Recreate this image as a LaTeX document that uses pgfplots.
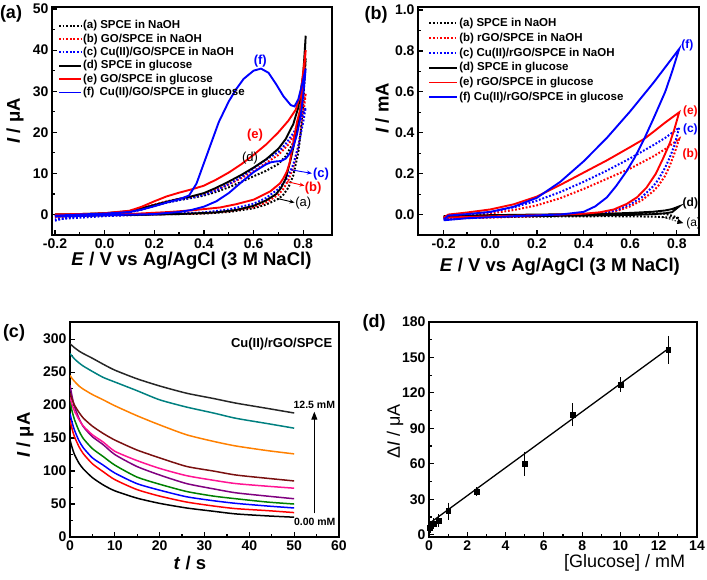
\documentclass[border=0pt]{standalone}
\usepackage{pgfplots}
\pgfplotsset{compat=1.18}
\usepackage{pgfplotstable}
\usepackage{fontspec}
\setmainfont{Liberation Sans}
\usetikzlibrary{arrows.meta}

\definecolor{cgreen}{HTML}{008000}
\definecolor{cpurple}{HTML}{800080}
\definecolor{cpink}{HTML}{FF1493}
\definecolor{cbrown}{HTML}{7A1010}
\definecolor{corange}{HTML}{FF8000}
\definecolor{cteal}{HTML}{008080}

% chronoamperometry, Cu(II)/rGO/SPCE, 0.00 -> 12.5 mM
\pgfplotstableread{
t    c0  c1  c2  c3  c4  c5  c6  c7  c8  c9
0    147 177 187 205 230 212 218 245 278 293
0.5  135 163 173 190 212 200 208 240 274 290
1    125 152 162 178 198 191 200 236 270 287
2    112 137 146 161 180 178 189 229 264 282
3    103 126 135 149 167 168 180 224 259 278
5    90  111 120 134 152 155 168 216 251 271
7.4  79  99  109 122 140 144 157 208 242 262
10   70  87  97  109 125 130 147 199 235 253
14.9 59  72  81  91  107 116 132 184 222 240
20   51  62  71  80  94  104 120 170 208 229
26   44  53  61  69  81  93  107 155 197 218
32   39  47  55  62  73  86  100 145 188 210
37   35  43  51  58  67  81  94  138 180 203
44   32  40  47  53  62  77  89  131 172 195
50   30  37  44  50  58  74  85  126 165 188
}\ctdata

% calibration
\pgfplotstableread{
x    y     e
0.05 6     2
0.1  7.5   2
0.25 9.5   2
0.5  12    3
1    20    5
2.5  36.5  1.5
5    60    8
7.5  101.5 7.5
10   127   4
12.5 156.5 9.5
}\caldata

\tikzset{
  dot/.style={line width=2pt, dash pattern=on 1.8pt off 1.8pt},
  sol/.style={line width=1.9pt},
}

\pgfplotsset{
  panel/.style={
    scale only axis, tick pos=left, tick align=inside,
    major tick length=5pt, minor tick length=3pt,
    axis line style={line width=1.6pt},
    major tick style={line width=1.2pt, black},
    minor tick style={line width=1.2pt, black},
    minor x tick num=1, minor y tick num=1,
    /pgf/number format/assume math mode=true,
    tick label style={font=\fontsize{14}{14}\selectfont\bfseries},
    label style={font=\fontsize{18.5}{18.5}\selectfont\bfseries},
    clip mode=individual,
  },
}

\begin{document}
\begin{tikzpicture}
\useasboundingbox (0,0) rectangle (707pt,579pt);

% ---------- (a) ----------
\begin{axis}[panel,
  at={(52pt,344pt)}, anchor=south west, width=280pt, height=228pt,
  xmin=-0.212, xmax=0.916, ymin=-5, ymax=50.5,
  xtick={-0.2,0,...,0.8}, ytick={0,10,...,50},
  xticklabel style={/pgf/number format/.cd, fixed, fixed zerofill, precision=1},
  xlabel={\textit{E} / V vs Ag/AgCl (3 M NaCl)},
  ylabel={\textit{I} / μA},
  xlabel style={at={(axis description cs:0.498,-0.115)}, anchor=center},
  ylabel style={at={(axis description cs:-0.132,0.5)}, anchor=center},
  legend cell align=left,
  legend image code/.code={\draw[#1] (0pt,0pt) -- (22pt,0pt);},
  legend style={draw=none, fill=none, at={(0.021,0.947)}, anchor=north west,
    font=\fontsize{11.5}{12}\selectfont\bfseries, inner sep=0pt, row sep=0.9pt,
    nodes={inner sep=1pt, text height=8.5pt, text depth=2pt}},
]
\addplot[dot, black] coordinates {
(-0.2,-0.3) (-0.1,0) (0,0.2) (0.1,0.6) (0.15,1.3) (0.2,2.1) (0.25,2.9) (0.3,3.5)
(0.35,4.0) (0.4,4.6) (0.45,5.5) (0.5,6.6) (0.55,7.9) (0.6,9.3) (0.65,10.6) (0.7,12.3)
(0.73,14.2) (0.76,17.5) (0.78,22) (0.8,30) (0.81,38)
(0.8,27) (0.79,20) (0.78,15) (0.76,9.5) (0.74,6.5) (0.72,4.8) (0.7,3.8) (0.65,2.4)
(0.6,1.5) (0.5,0.6) (0.4,0.2) (0.2,0) (0,-0.2) (-0.2,-0.5)};
\addplot[dot, red] coordinates {
(-0.2,-0.5) (-0.1,-0.1) (0,0.2) (0.1,0.7) (0.15,1.5) (0.2,2.4) (0.25,3.2) (0.3,3.8)
(0.35,4.3) (0.4,5.0) (0.45,6.0) (0.5,7.3) (0.55,8.8) (0.6,10.5) (0.65,12.5) (0.7,14.5)
(0.74,17) (0.77,20) (0.79,23.5) (0.81,29.5)
(0.8,24) (0.78,16.5) (0.76,11.5) (0.74,8.3) (0.72,6.2) (0.7,4.8) (0.65,2.9) (0.6,1.8)
(0.5,0.8) (0.4,0.3) (0.2,0) (0,-0.3) (-0.2,-0.7)};
\addplot[dot, blue] coordinates {
(-0.2,-1.5) (-0.15,-0.8) (-0.1,-0.4) (0,0) (0.1,0.5) (0.15,1.2) (0.2,2.1) (0.25,2.9)
(0.3,3.5) (0.35,4.1) (0.4,4.8) (0.45,5.9) (0.5,7.4) (0.55,9.1) (0.6,11.2) (0.65,13.3)
(0.7,15.2) (0.73,17.2) (0.76,19.8) (0.79,23.2) (0.81,26)
(0.8,22.5) (0.78,16.5) (0.76,12.2) (0.75,10.8) (0.73,8.3) (0.7,6.2) (0.65,4.0) (0.6,2.6)
(0.5,1.2) (0.4,0.5) (0.2,0) (0,-0.4) (-0.2,-1.2)};
\addplot[sol, black] coordinates {
(-0.2,0) (-0.1,0.1) (0,0.3) (0.1,0.8) (0.15,1.5) (0.2,2.3) (0.25,3.1) (0.3,3.8)
(0.35,4.4) (0.4,5.2) (0.45,6.5) (0.5,8.0) (0.55,9.6) (0.6,11.4) (0.65,13.4) (0.7,16.0)
(0.73,18.4) (0.76,22) (0.78,26) (0.8,34) (0.81,43.5)
(0.8,31) (0.79,26) (0.78,22) (0.77,19) (0.75,13.5) (0.73,8.8) (0.71,6.4) (0.69,4.9)
(0.65,3.4) (0.6,2.1) (0.53,1.1) (0.45,0.5) (0.3,0.1) (0.1,-0.1) (-0.2,-0.2)};
\addplot[sol, red] coordinates {
(-0.2,0) (-0.1,0.1) (0,0.3) (0.1,0.9) (0.15,1.9) (0.2,3.2) (0.25,4.4) (0.3,5.3)
(0.35,6.1) (0.4,7.0) (0.45,8.5) (0.5,10.2) (0.55,12.2) (0.6,14.5) (0.65,17.0) (0.7,20.0)
(0.74,22.8) (0.77,25.5) (0.79,29.5) (0.81,40)
(0.8,32) (0.79,26) (0.775,22.5) (0.76,17.5) (0.745,12.5) (0.734,10.4) (0.72,8.8)
(0.707,7.6) (0.667,5.6) (0.6,3.6) (0.53,2.5) (0.465,1.7) (0.35,1.0) (0.26,0.6)
(0.1,0.1) (-0.2,-0.2)};
\addplot[sol, blue] coordinates {
(-0.2,-0.3) (-0.1,0) (0,0.2) (0.1,0.6) (0.15,1.2) (0.2,2.0) (0.25,2.9) (0.3,3.7)
(0.34,4.6) (0.37,7.5) (0.4,12.5) (0.43,17.5) (0.46,22.5) (0.5,27.5) (0.53,30.5)
(0.56,33) (0.6,35.0) (0.63,35.5) (0.66,34.5) (0.69,31.8) (0.72,28.8) (0.75,26.6)
(0.765,26.3) (0.78,28) (0.795,31.5) (0.81,35.5)
(0.8,29) (0.79,24) (0.775,19.5) (0.76,16.5) (0.745,14.8) (0.73,13.6) (0.71,13)
(0.69,12.9) (0.67,12.7) (0.65,12.2) (0.6,10.3) (0.55,7.8) (0.5,5.2) (0.45,3.2)
(0.4,1.9) (0.35,1.1) (0.3,0.6) (0.2,0.1) (0,-0.2) (-0.2,-0.5)};
\legend{(a) SPCE in NaOH, (b) GO/SPCE in NaOH, (c) Cu(II)/GO/SPCE in NaOH,
  (d) SPCE in glucose, (e) GO/SPCE in glucose, (f)\ \,Cu(II)/GO/SPCE in glucose}
\node[blue, font=\fontsize{13}{13}\selectfont\bfseries] at (axis cs:0.627,37.3) {(f)};
\node[red, font=\fontsize{13}{13}\selectfont\bfseries] at (axis cs:0.606,19.4) {(e)};
\node[black, font=\fontsize{13}{13}\selectfont] at (axis cs:0.586,13.8) {(d)};
\node[blue, font=\fontsize{13}{13}\selectfont\bfseries] at (axis cs:0.872,9.7) {(c)};
\node[red, font=\fontsize{13}{13}\selectfont\bfseries] at (axis cs:0.84,6.3) {(b)};
\node[black, font=\fontsize{13}{13}\selectfont] at (axis cs:0.8,2.7) {(a)};
\draw[blue, line width=0.9pt, -{Stealth[length=5pt,width=4pt]}] (axis cs:0.748,10.9) -- (axis cs:0.835,10.0);
\draw[red, line width=0.9pt, -{Stealth[length=5pt,width=4pt]}] (axis cs:0.735,8.0) -- (axis cs:0.805,7.0);
\draw[black, line width=0.9pt, -{Stealth[length=5pt,width=4pt]}] (axis cs:0.695,3.9) -- (axis cs:0.765,2.9);
\end{axis}

% ---------- (b) ----------
\begin{axis}[panel,
  at={(418pt,344pt)}, anchor=south west, width=281pt, height=228pt,
  xmin=-0.31, xmax=0.895, ymin=-0.1, ymax=1.015,
  xtick={-0.2,0,...,0.8}, ytick={0,0.2,...,1.0},
  xticklabel style={/pgf/number format/.cd, fixed, fixed zerofill, precision=1},
  yticklabel style={/pgf/number format/.cd, fixed, fixed zerofill, precision=1},
  xlabel={\textit{E} / V vs Ag/AgCl (3 M NaCl)},
  ylabel={\textit{I} / mA},
  xlabel style={at={(axis description cs:0.505,-0.14)}, anchor=center},
  ylabel style={at={(axis description cs:-0.128,0.555)}, anchor=center},
  legend cell align=left,
  legend image code/.code={\draw[#1] (0pt,0pt) -- (28pt,0pt);},
  legend style={draw=none, fill=none, at={(0.036,0.957)}, anchor=north west,
    font=\fontsize{11.5}{12}\selectfont\bfseries, inner sep=0pt, row sep=2.3pt,
    nodes={inner sep=1pt, text height=8.5pt, text depth=2pt}},
]
\addplot[dot, black] coordinates {
(-0.2,-0.012) (0,-0.008) (0.2,-0.004) (0.4,-0.001) (0.5,0.0) (0.6,0.002) (0.7,0.006)
(0.75,0.004) (0.78,-0.006) (0.81,-0.018)
(0.7,-0.01) (0.5,-0.008) (0.2,-0.01) (-0.2,-0.014)};
\addplot[dot, red] coordinates {
(-0.2,-0.02) (-0.1,-0.005) (0,0.005) (0.1,0.022) (0.2,0.045) (0.3,0.08) (0.4,0.125)
(0.5,0.175) (0.6,0.225) (0.7,0.285) (0.75,0.32) (0.81,0.37)
(0.79,0.3) (0.77,0.24) (0.75,0.19) (0.72,0.14) (0.7,0.115) (0.65,0.07) (0.6,0.04)
(0.55,0.02) (0.5,0.008) (0.4,0.0) (0.2,-0.008) (0,-0.015) (-0.2,-0.02)};
\addplot[dot, blue] coordinates {
(-0.2,-0.015) (-0.1,0.0) (0,0.012) (0.1,0.035) (0.2,0.068) (0.3,0.11) (0.4,0.16)
(0.5,0.215) (0.6,0.275) (0.7,0.34) (0.75,0.375) (0.81,0.425)
(0.79,0.34) (0.77,0.28) (0.75,0.23) (0.72,0.17) (0.7,0.14) (0.65,0.085) (0.6,0.05)
(0.55,0.025) (0.5,0.01) (0.4,0.001) (0.2,-0.006) (0,-0.012) (-0.2,-0.018)};
\addplot[sol, black] coordinates {
(-0.2,-0.008) (0,-0.003) (0.2,0.0) (0.4,0.002) (0.5,0.004) (0.6,0.008) (0.7,0.014)
(0.75,0.02) (0.78,0.027) (0.81,0.04)
(0.78,0.012) (0.75,0.006) (0.7,0.002) (0.6,-0.002) (0.4,-0.005) (0.2,-0.007)
(0,-0.01) (-0.2,-0.012)};
\addplot[sol, red] coordinates {
(-0.2,-0.015) (-0.18,0.0) (-0.1,0.01) (0,0.025) (0.1,0.05) (0.2,0.088) (0.3,0.145)
(0.4,0.205) (0.5,0.265) (0.6,0.33) (0.66,0.37) (0.7,0.405) (0.75,0.45) (0.81,0.5)
(0.79,0.42) (0.77,0.35) (0.742,0.277) (0.71,0.2) (0.67,0.132) (0.63,0.085)
(0.585,0.052) (0.53,0.025) (0.47,0.011) (0.4,0.004) (0.3,0.0) (0.1,-0.006)
(-0.1,-0.012) (-0.2,-0.015)};
\addplot[sol, blue] coordinates {
(-0.2,-0.025) (-0.18,-0.005) (-0.1,0.002) (0,0.013) (0.1,0.038) (0.2,0.082) (0.3,0.16)
(0.4,0.26) (0.5,0.375) (0.6,0.505) (0.7,0.645) (0.75,0.72) (0.81,0.81)
(0.78,0.7) (0.75,0.6) (0.7,0.47) (0.66,0.37) (0.62,0.28) (0.585,0.213) (0.54,0.14)
(0.5,0.084) (0.45,0.04) (0.4,0.013) (0.3,0.0) (0.1,-0.008) (-0.1,-0.018) (-0.2,-0.028)};
\legend{(a) SPCE in NaOH, (b) rGO/SPCE in NaOH, (c) Cu(II)/rGO/SPCE in NaOH,
  (d) SPCE in glucose, (e) rGO/SPCE in glucose, (f) Cu(II)/rGO/SPCE in glucose}
\node[blue, font=\fontsize{12}{12}\selectfont\bfseries] at (axis cs:0.845,0.825) {(f)};
\node[red, font=\fontsize{12}{12}\selectfont\bfseries] at (axis cs:0.858,0.505) {(e)};
\node[blue, font=\fontsize{12}{12}\selectfont\bfseries] at (axis cs:0.858,0.414) {(c)};
\node[red, font=\fontsize{12}{12}\selectfont\bfseries] at (axis cs:0.858,0.293) {(b)};
\node[black, font=\fontsize{12}{12}\selectfont\bfseries] at (axis cs:0.858,0.055) {(d)};
\node[black, font=\fontsize{12}{12}\selectfont] at (axis cs:0.872,-0.045) {(a)};
\draw[black, line width=0.9pt, dash pattern=on 1.5pt off 1.5pt, -{Triangle[length=6pt,width=5pt]}] (axis cs:0.741,-0.013) -- (axis cs:0.828,-0.042);
\end{axis}

% ---------- (c) ----------
\begin{axis}[panel,
  at={(70pt,42pt)}, anchor=south west, width=269pt, height=215pt,
  xmin=0, xmax=60, ymin=0, ymax=326,
  xtick={0,10,...,60}, ytick={0,50,...,300},
  xlabel={\textit{t} / s},
  ylabel={\textit{I} / μA},
  xlabel style={at={(axis description cs:0.446,-0.122)}, anchor=center},
  ylabel style={at={(axis description cs:-0.167,0.474)}, anchor=center},
  every axis plot/.append style={line width=1.5pt, smooth, tension=0.4},
]
\addplot[black]   table[x=t, y=c0] {\ctdata};
\addplot[red]     table[x=t, y=c1] {\ctdata};
\addplot[blue]    table[x=t, y=c2] {\ctdata};
\addplot[cgreen]  table[x=t, y=c3] {\ctdata};
\addplot[cpurple] table[x=t, y=c4] {\ctdata};
\addplot[cpink]   table[x=t, y=c5] {\ctdata};
\addplot[cbrown]  table[x=t, y=c6] {\ctdata};
\addplot[corange] table[x=t, y=c7] {\ctdata};
\addplot[cteal]   table[x=t, y=c8] {\ctdata};
\addplot[black!85] table[x=t, y=c9] {\ctdata};
\node[font=\fontsize{13}{13}\selectfont\bfseries] at (axis cs:47.2,293) {Cu(II)/rGO/SPCE};
\node[font=\fontsize{10.5}{10.5}\selectfont\bfseries] at (axis cs:54.5,200) {12.5 mM};
\node[font=\fontsize{10.5}{10.5}\selectfont\bfseries] at (axis cs:54.6,23.5) {0.00 mM};
\draw[black, line width=1.1pt, -{Triangle[length=8pt,width=6pt]}] (axis cs:54.5,36) -- (axis cs:54.5,190);
\end{axis}

% ---------- (d) ----------
\begin{axis}[panel,
  at={(429pt,42pt)}, anchor=south west, width=268pt, height=215pt,
  xmin=0, xmax=14, ymin=-2, ymax=180,
  xtick={0,2,...,14}, ytick={0,30,...,180},
  xlabel={[Glucose] / mM},
  ylabel={Δ\textit{I} / μA},
  label style={font=\fontsize{18}{18}\selectfont},
  xlabel style={at={(axis description cs:0.73,-0.122)}, anchor=center},
  ylabel style={at={(axis description cs:-0.127,0.49)}, anchor=center},
]
\addplot[black, line width=1.3pt] coordinates {(0,9.3) (12.5,157.4)};
\addplot[black, only marks, mark=square*, mark size=2.4pt,
  error bars/.cd, y dir=both, y explicit,
  error bar style={line width=0.9pt},
  error mark options={line width=0.9pt, mark size=2.6pt}]
  table[x=x, y=y, y error=e] {\caldata};
\end{axis}

\node[font=\fontsize{18}{18}\selectfont\bfseries] at (11pt,565pt) {(a)};
\node[font=\fontsize{18}{18}\selectfont\bfseries] at (376pt,564pt) {(b)};
\node[font=\fontsize{18}{18}\selectfont\bfseries] at (14pt,246pt) {(c)};
\node[font=\fontsize{18}{18}\selectfont\bfseries] at (374pt,256pt) {(d)};
\end{tikzpicture}
\end{document}
